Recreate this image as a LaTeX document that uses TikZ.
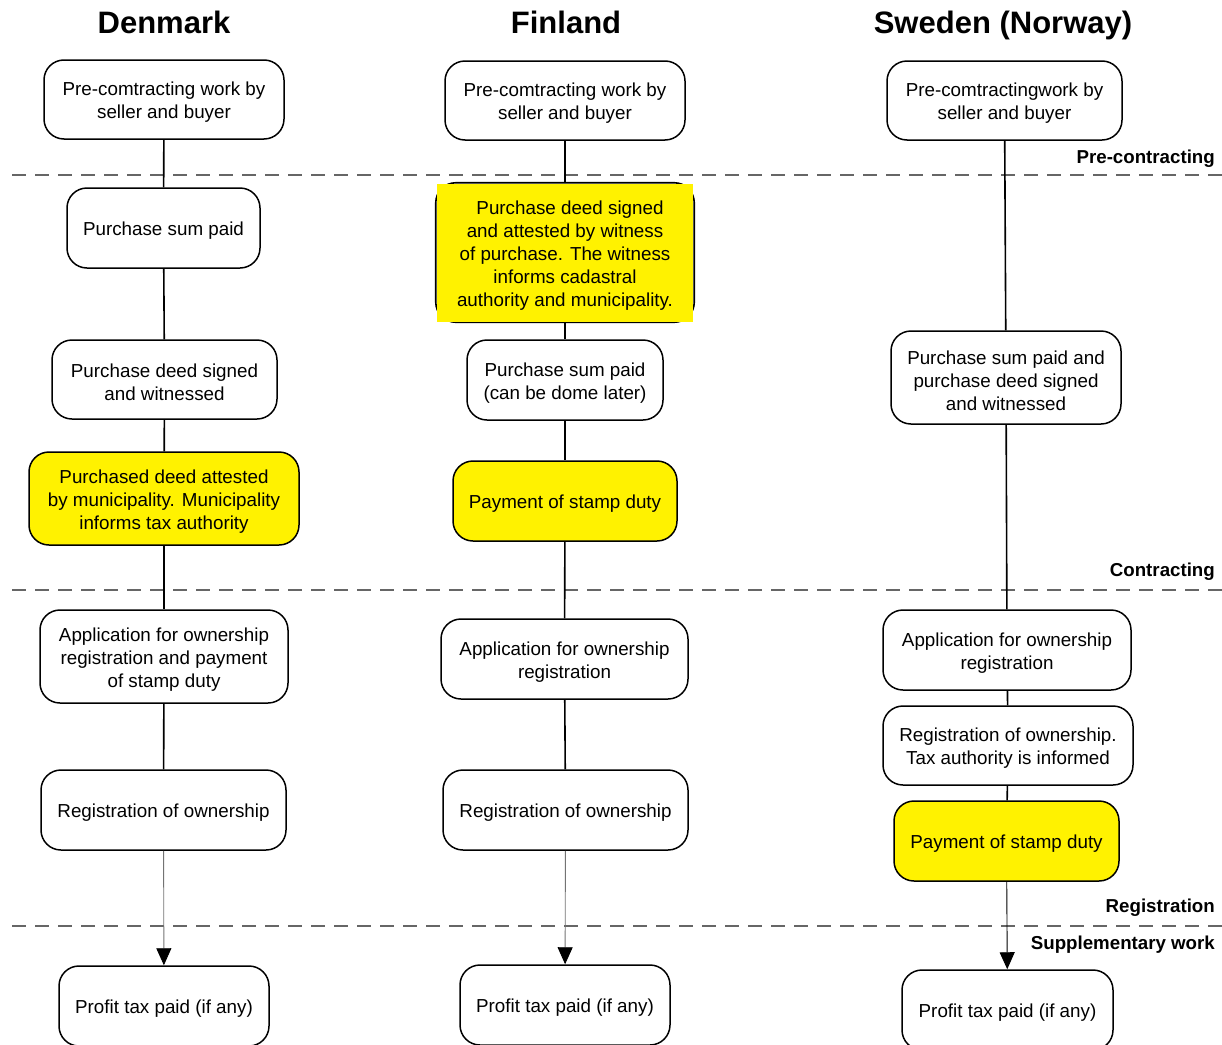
\documentclass[tikz,border=0pt]{standalone}
\usepackage{fontspec}
\setmainfont{Liberation Sans}
\usepackage{tikz}
\usetikzlibrary{arrows.meta, backgrounds, positioning}

\newcommand{\lift}{\rule{0pt}{19.5pt}}

\tikzset{
  box/.style={draw, line width=1.5pt, rounded corners=20pt, align=center, inner sep=2pt,
    font=\fontsize{18.8}{23}\selectfont},
  hlbox/.style={box, fill=yellow},
  phase/.style={anchor=east, inner sep=0pt, font=\fontsize{18.7}{21}\selectfont\bfseries},
  country/.style={anchor=base, font=\fontsize{31}{36}\selectfont\bfseries},
  link/.style={line width=1.6pt},
  sep/.style={draw=black!60, line width=1.2pt, dash pattern=on 14pt off 9pt},
  lastlink/.style={line width=0.9pt, -{Triangle[length=17pt,width=15pt,color=black]}},
}

\begin{document}
\begin{tikzpicture}[x=1pt, y=-1pt]
  \useasboundingbox (0,0) rectangle (1222,1044);

  \node[country] (den) at (164,33) {Denmark};
  \node[country] (fin) at (566,33) {Finland};
  \node[country] (swe) at (1003,33) {Sweden (Norway)};

  \draw[sep] (12,175) -- (1222,175);
  \draw[sep] (12,590) -- (1222,590);
  \draw[sep] (12,926) -- (1222,926);
  \node[phase] (pre) at (1215,159) {Pre-contracting};
  \node[phase] (con) at (1215,572) {Contracting};
  \node[phase] (reg) at (1215,908) {Registration};
  \node[phase] (sup) at (1215,945) {Supplementary work};

  \node[box, minimum width=240, minimum height=79] (d1) at (164,99.5) {\lift Pre-comtracting work by\\seller and buyer};
  \node[box, minimum width=193, minimum height=80] (d2) at (163.5,228) {\lift Purchase sum paid};
  \node[box, minimum width=225, minimum height=79] (d3) at (164.5,379.5) {\lift Purchase deed signed\\and witnessed};
  \node[hlbox, minimum width=270, minimum height=93] (d4) at (164,498.5) {\lift Purchased deed attested\\by municipality. Municipality\\informs tax authority};
  \node[box, minimum width=248, minimum height=93] (d5) at (164,656.5) {\lift Application for ownership\\registration and payment\\of stamp duty};
  \node[box, minimum width=245, minimum height=80] (d6) at (163.5,810) {\lift Registration of ownership};
  \node[box, minimum width=210, minimum height=80] (d7) at (164,1006) {\lift Profit tax paid (if any)};

  \node[box, minimum width=240, minimum height=79] (f1) at (565,100.5) {\lift Pre-comtracting work by\\seller and buyer};
  \node[box, rounded corners=0pt, draw=none, fill=yellow, minimum width=256, minimum height=138] (f2) at (565,252.5)
    {\lift\hspace*{10pt}Purchase deed signed\\and attested by witness\\of purchase. The witness\\informs cadastral\\authority and municipality.};
  \node[box, minimum width=196, minimum height=80] (f3) at (565,380) {\lift Purchase sum paid\\(can be dome later)};
  \node[hlbox, minimum width=224, minimum height=80] (f4) at (565,501) {\lift Payment of stamp duty};
  \node[box, minimum width=247, minimum height=80] (f5) at (564.5,659) {\lift Application for ownership\\registration};
  \node[box, minimum width=245, minimum height=80] (f6) at (565.5,810) {\lift Registration of ownership};
  \node[box, minimum width=210, minimum height=80] (f7) at (565,1005) {\lift Profit tax paid (if any)};

  \node[box, minimum width=235, minimum height=79] (s1) at (1004.5,100.5) {\lift Pre-comtractingwork by\\seller and buyer};
  \node[box, minimum width=230, minimum height=93] (s2) at (1006,377.5) {\lift Purchase sum paid and\\purchase deed signed\\and witnessed};
  \node[box, minimum width=248, minimum height=80] (s3) at (1007,650) {\lift Application for ownership\\registration};
  \node[box, minimum width=250, minimum height=79] (s4) at (1008,745.5) {\lift Registration of ownership.\\Tax authority is informed};
  \node[hlbox, minimum width=225, minimum height=80] (s5) at (1006.5,841) {\lift Payment of stamp duty};
  \node[box, minimum width=211, minimum height=80] (s6) at (1007.5,1010) {\lift Profit tax paid (if any)};

  \begin{pgfonlayer}{background}
    \draw[link, rounded corners=20pt] ([xshift=-0.5pt]f2.south west) rectangle ([xshift=0.5pt]f2.north east);
  \end{pgfonlayer}

  \draw[link] (d1) -- (d2);
  \draw[link] (d2) -- (d3);
  \draw[link] (d3) -- (d4);
  \draw[link] (d4) -- (d5);
  \draw[link] (d5) -- (d6);
  \draw[lastlink, draw=black!55] (d6) -- (d7);

  \draw[link] (f1) -- (f2);
  \draw[link] (f2) -- (f3);
  \draw[link] (f3) -- (f4);
  \draw[link] (f4) -- (f5);
  \draw[link] (f5) -- (f6);
  \draw[lastlink, draw=black!55] (f6) -- (f7);

  \draw[link] (s1) -- (s2);
  \draw[link] (s2) -- (s3);
  \draw[link] (s3) -- (s4);
  \draw[link] (s4) -- (s5);
  \draw[lastlink] (s5) -- (s6);
\end{tikzpicture}
\end{document}
